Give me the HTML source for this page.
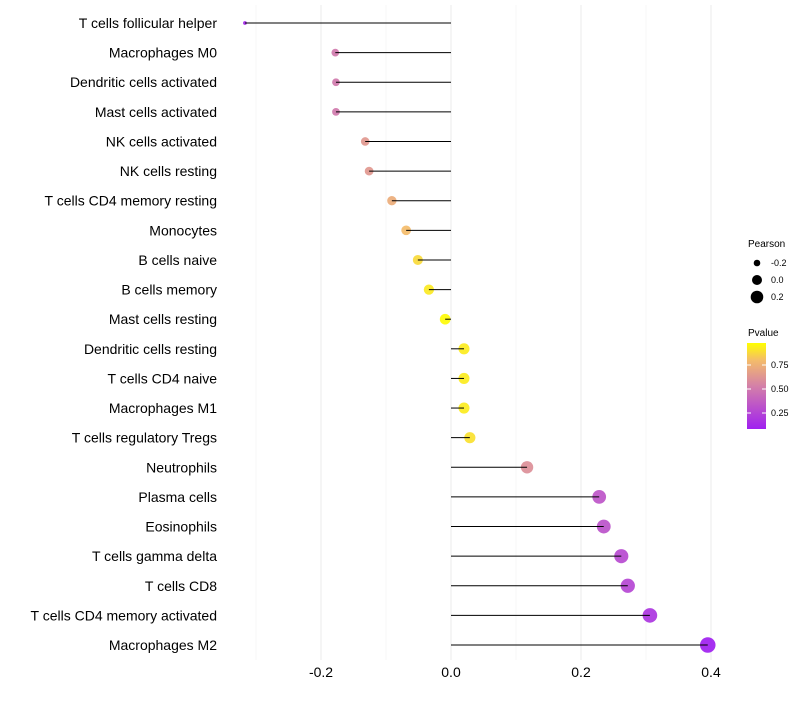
<!DOCTYPE html>
<html><head><meta charset="utf-8"><style>
body{margin:0;background:#fff;font-family:"Liberation Sans",sans-serif}
</style></head><body>
<svg id="chart" width="800" height="700" xmlns="http://www.w3.org/2000/svg">
<defs><linearGradient id="pg" x1="0" y1="1" x2="0" y2="0">
<stop offset="0" stop-color="#A020F0"/><stop offset="0.5" stop-color="#D480A8"/><stop offset="0.8" stop-color="#F4BC6A"/><stop offset="1" stop-color="#FFFF00"/></linearGradient></defs>
<g id="grid"></g><g id="dots"></g><g id="stems"></g><g id="labels"></g>
<g font-size="9" fill="#000">
<text x="748" y="247" font-size="10">Pearson</text>
<circle cx="757" cy="263" r="3.3"/><text x="771" y="266">-0.2</text>
<circle cx="757" cy="280" r="5"/><text x="771" y="283">0.0</text>
<circle cx="757" cy="297" r="6.3"/><text x="771" y="300">0.2</text>
</g>
<g font-size="9" fill="#000">
<text x="748" y="336" font-size="10">Pvalue</text>
<rect x="747" y="343" width="19" height="86" fill="url(#pg)"/>
<line x1="747" y1="365" x2="751" y2="365" stroke="#fff"/><line x1="762" y1="365" x2="766" y2="365" stroke="#fff"/>
<line x1="747" y1="389" x2="751" y2="389" stroke="#fff"/><line x1="762" y1="389" x2="766" y2="389" stroke="#fff"/>
<line x1="747" y1="413" x2="751" y2="413" stroke="#fff"/><line x1="762" y1="413" x2="766" y2="413" stroke="#fff"/>
<text x="771" y="368">0.75</text><text x="771" y="392">0.50</text><text x="771" y="416">0.25</text>
</g>
</svg>
<script>
const categories=["T cells follicular helper","Macrophages M0","Dendritic cells activated","Mast cells activated","NK cells activated","NK cells resting","T cells CD4 memory resting","Monocytes","B cells naive","B cells memory","Mast cells resting","Dendritic cells resting","T cells CD4 naive","Macrophages M1","T cells regulatory  Tregs ","Neutrophils","Plasma cells","Eosinophils","T cells gamma delta","T cells CD8","T cells CD4 memory activated","Macrophages M2"];
const pearson=[-0.317,-0.178,-0.177,-0.177,-0.132,-0.126,-0.091,-0.069,-0.051,-0.034,-0.009,0.020,0.020,0.020,0.029,0.117,0.228,0.235,0.262,0.272,0.306,0.395];
const pvalues=[0.12,0.5,0.5,0.5,0.64,0.64,0.73,0.8,0.88,0.92,0.97,0.93,0.93,0.93,0.9,0.6,0.33,0.32,0.28,0.26,0.18,0.06];
const xTicks=[-0.2,0,0.2,0.4];
const xTickLabels=["-0.2","0.0","0.2","0.4"];
const NS="http://www.w3.org/2000/svg";
const x=v=>451+v*650;
const y=i=>23+i*(622/21);
function mk(t,a,p){const e=document.createElementNS(NS,t);for(const k in a)e.setAttribute(k,a[k]);p.appendChild(e);return e;}
function lerp(a,b,t){return a.map((v,i)=>Math.round(v+(b[i]-v)*t));}
const stops=[[0,[160,32,240]],[0.5,[212,128,168]],[0.8,[244,188,106]],[1,[255,255,0]]];
function col(p){const t=Math.max(0,Math.min(1,(p-0.083)/(0.98-0.083)));for(let i=1;i<stops.length;i++){if(t<=stops[i][0]){const c=lerp(stops[i-1][1],stops[i][1],(t-stops[i-1][0])/(stops[i][0]-stops[i-1][0]));return `rgb(${c})`;}}return "rgb(255,255,0)";}
const G=document.getElementById('grid'),D=document.getElementById('dots'),S=document.getElementById('stems'),L=document.getElementById('labels');
[-0.3,-0.1,0.1,0.3].forEach(v=>{const l=mk('line',{x1:x(v),x2:x(v),y1:5,y2:660,stroke:'#f2f2f2','stroke-width':0.6},G);});
xTicks.forEach((v,i)=>{const l=mk('line',{x1:x(v),x2:x(v),y1:5,y2:660,stroke:'#ebebeb','stroke-width':1},G);
const t=mk('text',{x:x(v),y:677,'text-anchor':'middle','font-size':14,fill:'#000'},L);t.textContent=xTickLabels[i];});
categories.forEach((c,i)=>{
const r=Math.sqrt(Math.max(1.5,29+80*pearson[i]));
const d=mk('circle',{cx:x(pearson[i]),cy:y(i),r:r,fill:col(pvalues[i]),'fill-opacity':0.92},D);

const ln=mk('line',{x1:x(0),x2:x(pearson[i]),y1:y(i),y2:y(i),stroke:'#000','stroke-width':1},S);

const t=mk('text',{x:217,y:y(i)+5,'text-anchor':'end','font-size':14,fill:'#000'},L);t.textContent=c;

});
</script>
</body></html>
